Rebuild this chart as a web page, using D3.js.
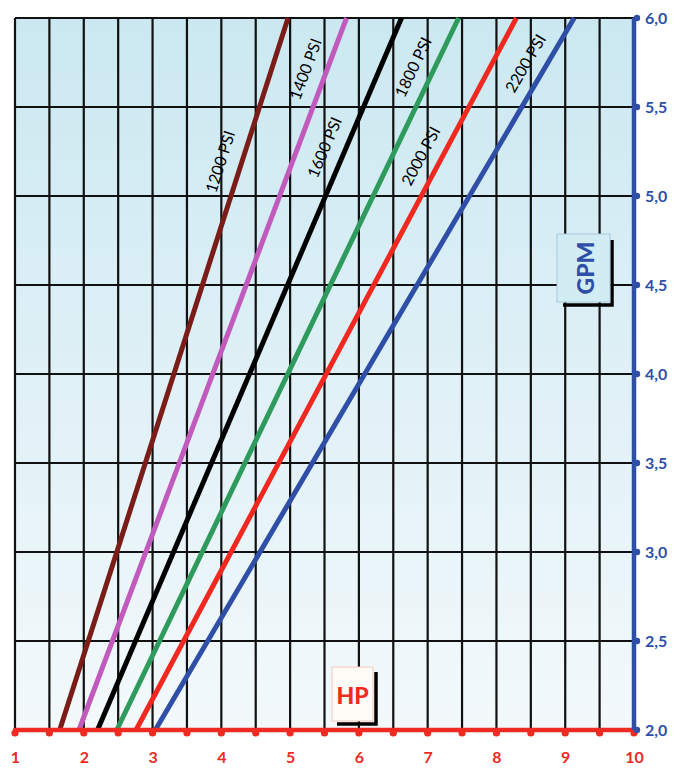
<!DOCTYPE html>
<html><head><meta charset="utf-8">
<script src="https://cdn.jsdelivr.net/npm/d3@7"></script>
<style>html,body{margin:0;padding:0;background:#fff;}svg{display:block;}</style>
</head><body>
<svg id="chart" width="690" height="769"></svg>
<script>
// ---- data ----
const series = ["1200 PSI","1400 PSI","1600 PSI","1800 PSI","2000 PSI","2200 PSI"];
const gpmEnds = [2.0, 6.0];
const hpAtMin = [1.65, 1.93, 2.20, 2.48, 2.76, 3.04];   // HP at 2.0 GPM
const hpAtMax = [4.97, 5.82, 6.62, 7.45, 8.29, 9.13];   // HP at 6.0 GPM
const labelGpm = [5.19, 5.71, 5.27, 5.72, 5.22, 5.74];
const colors = ["#7a1c17","#c05abd","#000000","#2e9a5c","#f0281f","#2f4fa7"];
const xTicks = [1,2,3,4,5,6,7,8,9,10];
const yTicks = [2.0,2.5,3.0,3.5,4.0,4.5,5.0,5.5,6.0];
const xGrid = d3.range(1, 10, 0.5);
const yGrid = [2.5,3.0,3.5,4.0,4.5,5.0,5.5,6.0];

const svg = d3.select("#chart");
const x = d3.scaleLinear().domain([1,10]).range([15,634]);
const y = d3.scaleLinear().domain([2,6]).range([730,18]);
const font = "Lato, 'Open Sans', sans-serif";

// background gradient
const defs = svg.append("defs");
const g = defs.append("linearGradient").attr("id","bg").attr("x1",0).attr("y1",0).attr("x2",0).attr("y2",1);
g.append("stop").attr("offset","0%").attr("stop-color","#cbe8f1");
g.append("stop").attr("offset","55%").attr("stop-color","#e1f1f7");
g.append("stop").attr("offset","100%").attr("stop-color","#f3f9fb");
svg.append("rect").attr("x",x(1)).attr("y",y(6)).attr("width",x(10)-x(1)).attr("height",y(2)-y(6)).attr("fill","url(#bg)");

// grid
svg.append("g").selectAll("line").data(xGrid).join("line")
  .attr("x1",d=>x(d)).attr("x2",d=>x(d)).attr("y1",y(6)).attr("y2",y(2))
  .attr("stroke","#111").attr("stroke-width",2.2);
svg.append("g").selectAll("line").data(yGrid).join("line")
  .attr("x1",x(1)).attr("x2",x(10)).attr("y1",d=>y(d)).attr("y2",d=>y(d))
  .attr("stroke","#111").attr("stroke-width",2.2);

// series lines
const line = d3.line().x(d=>x(d[0])).y(d=>y(d[1]));
series.forEach((s,i)=>{
  svg.append("path").datum([[hpAtMin[i],gpmEnds[0]],[hpAtMax[i],gpmEnds[1]]])
    .attr("d",line).attr("fill","none").attr("stroke",colors[i]).attr("stroke-width",5);
});

// series labels
series.forEach((s,i)=>{
  const gp = labelGpm[i];
  const hp = hpAtMin[i] + (gp-gpmEnds[0])/(gpmEnds[1]-gpmEnds[0])*(hpAtMax[i]-hpAtMin[i]);
  const dx = x(hpAtMax[i])-x(hpAtMin[i]), dy = y(gpmEnds[1])-y(gpmEnds[0]);
  const ang = Math.atan2(dy,dx)*180/Math.PI;
  const px = x(hp)-20, py = y(gp);
  svg.append("text").attr("transform",`translate(${px},${py}) rotate(${ang})`)
    .attr("text-anchor","middle").attr("dominant-baseline","middle")
    .attr("font-family",font).attr("font-size",16).attr("fill","#000")
    .text(s);
});

// GPM box
const gb = {x:557,y:234,w:53,h:68};
svg.append("path").attr("d",`M${gb.x+gb.w+2},${gb.y+6} V${gb.y+gb.h+3} H${gb.x+6}`)
  .attr("fill","none").attr("stroke","#000").attr("stroke-width",3.5);
svg.append("rect").attr("x",gb.x).attr("y",gb.y).attr("width",gb.w).attr("height",gb.h)
  .attr("fill","#d2ecf4").attr("stroke","#a9c8dc").attr("stroke-width",1);
svg.append("text").attr("transform",`translate(${gb.x+gb.w/2+1},${gb.y+gb.h/2}) rotate(-90)`)
  .attr("text-anchor","middle").attr("dominant-baseline","central")
  .attr("font-family",font).attr("font-weight","900").attr("font-size",23).attr("fill","#2f4fa7").text("GPM");

// HP box
const hb = {x:332,y:667,w:41,h:54};
svg.append("path").attr("d",`M${hb.x+hb.w+3},${hb.y+5} V${hb.y+hb.h+3} H${hb.x+5}`)
  .attr("fill","none").attr("stroke","#000").attr("stroke-width",3.5);
svg.append("rect").attr("x",hb.x).attr("y",hb.y).attr("width",hb.w).attr("height",hb.h)
  .attr("fill","#fffcf8").attr("stroke","#f3c8bf").attr("stroke-width",1);
svg.append("text").attr("x",hb.x+hb.w/2).attr("y",hb.y+hb.h/2+1)
  .attr("text-anchor","middle").attr("dominant-baseline","central")
  .attr("font-family",font).attr("font-weight","900").attr("font-size",23).attr("fill","#ee2a22").text("HP");

// bottom axis (red)
const xAxis = d3.axisBottom(x).tickValues(xTicks).tickSize(0).tickPadding(22).tickFormat(d3.format("d"));
const xa = svg.append("g").attr("transform",`translate(0,${y(2)})`).call(xAxis);
xa.select(".domain").remove();
xa.selectAll("text").attr("font-family",font).attr("font-weight","bold").attr("font-size",16).attr("fill","#ee2a22");
svg.append("line").attr("x1",x(1)).attr("x2",x(10)).attr("y1",y(2)).attr("y2",y(2))
  .attr("stroke","#ee2a22").attr("stroke-width",4.5).attr("stroke-linecap","round");
svg.append("g").selectAll("circle").data(d3.range(1,10.01,0.5)).join("circle")
  .attr("cx",d=>x(d)).attr("cy",y(2)+3).attr("r",3.6).attr("fill","#ee2a22");

// right axis (blue)
const yAxis = d3.axisRight(y).tickValues(yTicks).tickSize(0).tickPadding(11)
  .tickFormat(d=>d3.format(".1f")(d).replace(".",","));
const ya = svg.append("g").attr("transform",`translate(${x(10)},0)`).call(yAxis);
ya.select(".domain").remove();
ya.selectAll("text").attr("font-family",font).attr("font-weight","bold").attr("font-size",16).attr("fill","#2f4fa7");
svg.append("line").attr("x1",x(10)).attr("x2",x(10)).attr("y1",y(6)).attr("y2",y(2))
  .attr("stroke","#2f4fa7").attr("stroke-width",4.5);
svg.append("g").selectAll("circle").data(yTicks).join("circle")
  .attr("cx",x(10)+3).attr("cy",d=>y(d)).attr("r",3.2).attr("fill","#2f4fa7");
</script>
</body></html>
